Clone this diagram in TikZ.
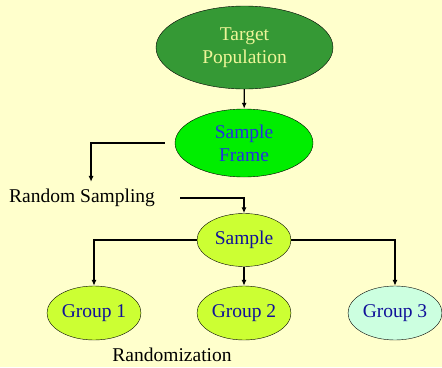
\documentclass[tikz,border=0pt]{standalone}
\usepackage{fontspec}
\setmainfont{Liberation Serif}
\usetikzlibrary{shapes.geometric,arrows.meta}
\definecolor{paleYellow}{HTML}{FFFFCC}
\definecolor{darkGreen}{HTML}{359935}
\definecolor{brightGreen}{HTML}{00EE00}
\definecolor{limeGreen}{HTML}{CCFF33}
\definecolor{paleMint}{HTML}{CCFFE0}
\definecolor{lightText}{HTML}{EEF599}
\definecolor{frameBlue}{HTML}{2233DD}
\definecolor{groupBlue}{HTML}{111199}
\tikzset{
  oval/.style={ellipse,draw=black,thin,inner sep=0pt,align=center,
    font=\fontsize{19.5}{23}\selectfont},
  arr/.style={-{Latex[length=6pt,width=5pt]},line width=1.3pt},
  lbl/.style={inner sep=0pt,font=\fontsize{19.5}{23}\selectfont}
}

\begin{document}
\begin{tikzpicture}[x=1pt,y=-1pt]
    \useasboundingbox[fill=paleYellow] (0,0) rectangle (442,367);
    \node[oval,fill=darkGreen,text=lightText,minimum width=177pt,minimum height=83pt] (target) at (244.5,47.5) {Target\\Population};
    \node[oval,fill=brightGreen,text=frameBlue,minimum width=138pt,minimum height=68pt] (frame) at (244,143) {Sample\\Frame};
    \node[lbl,anchor=west] (rs) at (9,198) {Random Sampling};
    \node[oval,fill=limeGreen,text=groupBlue,minimum width=94pt,minimum height=53pt] (sample) at (244,240) {Sample};
    \node[oval,fill=limeGreen,text=groupBlue,minimum width=94pt,minimum height=54pt] (g1) at (94,313) {Group 1};
    \node[oval,fill=limeGreen,text=groupBlue,minimum width=94pt,minimum height=54pt] (g2) at (244,313) {Group 2};
    \node[oval,fill=paleMint,text=groupBlue,minimum width=94pt,minimum height=54pt] (g3) at (395,313) {Group 3};
    \node[lbl] (rnd) at (172,355) {Randomization};

    \draw[arr] (target) -- (frame);
    \draw[arr] ([xshift=-10pt]frame.west) -| ([xshift=9pt,yshift=7pt]rs.north);
    \draw[arr] ([xshift=25pt]rs.east) -| (sample.north);
    \draw[arr] (sample.west) -| (g1.north);
    \draw[arr] (sample) -- (g2);
    \draw[arr] (sample.east) -| (g3.north);
\end{tikzpicture}
\end{document}
